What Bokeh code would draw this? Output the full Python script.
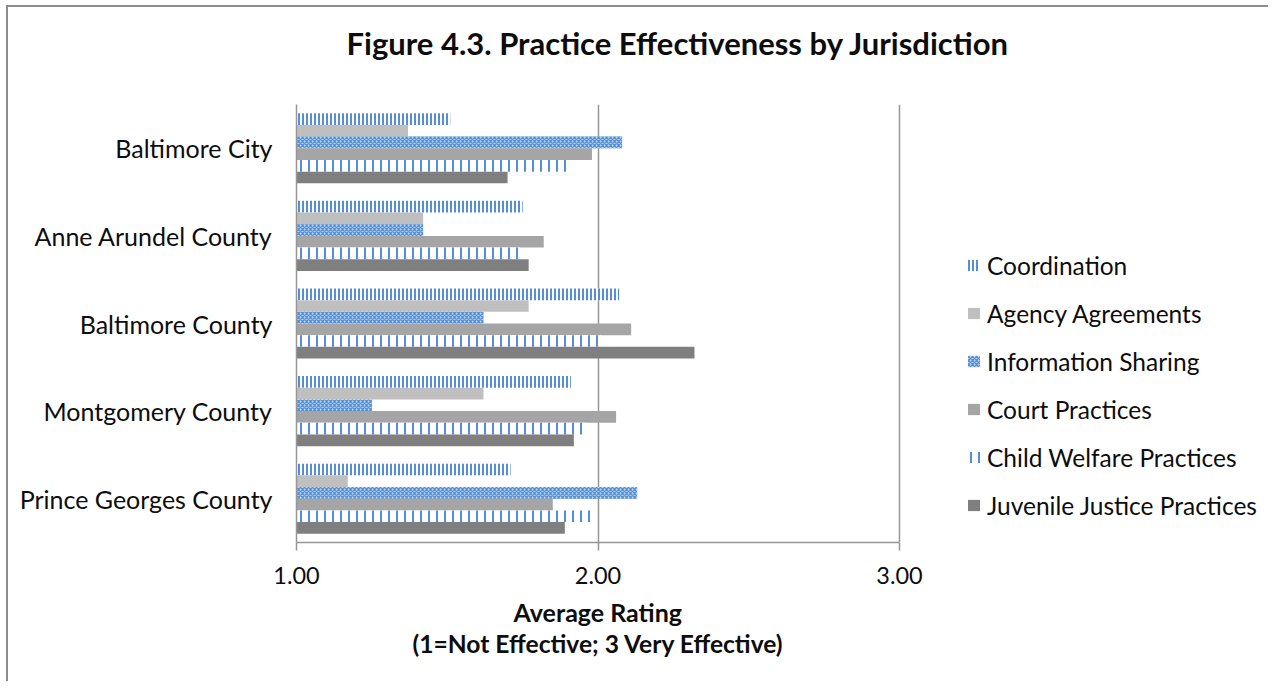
from bokeh.plotting import figure
from bokeh.models import (ColumnDataSource, FactorRange, Range1d, FixedTicker,
                          NumeralTickFormatter, Legend, LegendItem, Title)
from bokeh.transform import dodge
from bokeh.embed import file_html
from bokeh.resources import INLINE

# ---------------- data ----------------
jurisdictions = ["Baltimore City", "Anne Arundel County", "Baltimore County",
                 "Montgomery County", "Prince Georges County"]
series_names = ["Coordination", "Agency Agreements", "Information Sharing",
                "Court Practices", "Child Welfare Practices", "Juvenile Justice Practices"]
coordination = [1.51, 1.75, 2.07, 1.91, 1.71]
agency_agreements = [1.37, 1.42, 1.77, 1.62, 1.17]
information_sharing = [2.08, 1.42, 1.62, 1.25, 2.13]
court_practices = [1.98, 1.82, 2.11, 2.06, 1.85]
child_welfare_practices = [1.90, 1.74, 2.01, 1.96, 1.99]
juvenile_justice_practices = [1.70, 1.77, 2.32, 1.92, 1.89]
x_ticks = [1, 2, 3]

FONT = "Lato"
BLUE = "#558ED5"
AXIS_GREY = "#969696"
TEXT = "#0D0D0D"

# ---------------- layout constants ----------------
W, H = 1262, 676
MB_LEFT, MB_RIGHT, MB_TOP, MB_BOTTOM = 288, 4, 97, 141
PX_PER_UNIT = 301.5          # pixel length of one rating unit on the x axis
frame_w = W - MB_LEFT - MB_RIGHT

source = ColumnDataSource(dict(
    jur=jurisdictions,
    coordination=coordination,
    agency=agency_agreements,
    info=information_sharing,
    court=court_practices,
    cw=child_welfare_practices,
    jj=juvenile_justice_practices,
))

p = figure(width=W, height=H, output_backend="svg", toolbar_location=None,
           y_range=FactorRange(factors=list(reversed(jurisdictions)), range_padding=0),
           x_range=Range1d(x_ticks[0], x_ticks[0] + frame_w / PX_PER_UNIT),
           min_border_left=MB_LEFT, min_border_right=MB_RIGHT,
           min_border_top=MB_TOP, min_border_bottom=MB_BOTTOM)
p.styles = {"border-top": "2px solid #8E8E8E", "border-left": "2px solid #8E8E8E",
            "margin-left": "6px", "margin-top": "5px"}
p.outline_line_color = None
p.background_fill_color = "white"
p.border_fill_color = "white"

bar_h = 0.8 / 6
offsets = [2.5 * bar_h, 1.5 * bar_h, 0.5 * bar_h, -0.5 * bar_h, -1.5 * bar_h, -2.5 * bar_h]

styles = [
    dict(fill_color="white", hatch_pattern="vertical_line", hatch_color=BLUE, hatch_scale=4, hatch_weight=2),
    dict(fill_color="#BFBFBF"),
    dict(fill_color="#C2D6F0", hatch_pattern="diagonal_cross", hatch_color=BLUE, hatch_scale=4, hatch_weight=1.3),
    dict(fill_color="#A5A5A5"),
    dict(fill_color="white", hatch_pattern="vertical_line", hatch_color=BLUE, hatch_scale=8, hatch_weight=2),
    dict(fill_color="#7F7F7F"),
]
cols = ["coordination", "agency", "info", "court", "cw", "jj"]

renderers = []
for col, off, st in zip(cols, offsets, styles):
    r = p.hbar(y=dodge("jur", off, range=p.y_range), left=x_ticks[0], right=col, height=bar_h,
               source=source, line_color=None, **st)
    renderers.append(r)

# grid
p.ygrid.grid_line_color = None
p.xgrid.ticker = FixedTicker(ticks=x_ticks)
p.xgrid.grid_line_color = AXIS_GREY
p.xgrid.grid_line_width = 1.5

# x axis
xa = p.xaxis[0]
xa.ticker = FixedTicker(ticks=x_ticks)
xa.bounds = (x_ticks[0], x_ticks[-1])
xa.formatter = NumeralTickFormatter(format="0.00")
xa.axis_line_color = AXIS_GREY
xa.axis_line_width = 1.5
xa.major_tick_line_color = AXIS_GREY
xa.major_tick_line_width = 1.5
xa.major_tick_out = 8
xa.major_tick_in = 0
xa.minor_tick_line_color = None
xa.major_label_text_font = FONT
xa.major_label_text_font_size = "23.5px"
xa.major_label_text_color = TEXT
xa.major_label_standoff = 16

# axis title, two lines, centred under the 1.00-3.00 span
xlabel1 = Title(text="Average Rating", align="left", offset=217,
                text_font=FONT, text_font_size="25px", text_font_style="bold",
                text_color=TEXT, standoff=17)
p.add_layout(xlabel1, "below")
xlabel2 = Title(text="(1=Not Effective; 3 Very Effective)", align="left", offset=116,
                text_font=FONT, text_font_size="24.6px", text_font_style="bold",
                text_color=TEXT, standoff=-17)
p.add_layout(xlabel2, "below")

# y axis
ya = p.yaxis[0]
ya.axis_line_color = AXIS_GREY
ya.axis_line_width = 1.5
ya.major_tick_line_color = None
ya.major_tick_out = 0
ya.major_tick_in = 0
ya.minor_tick_line_color = None
ya.major_label_text_font = FONT
ya.major_label_text_font_size = "25px"
ya.major_label_text_color = TEXT
ya.major_label_standoff = 24

# title: a thin spacer next to the frame, then the title text above it
p.title.text = ""
spacer = Title(text=" ", text_font_size="1px", standoff=40)
p.add_layout(spacer, "above")
main_title = Title(text="Figure 4.3. Practice Effectiveness by Jurisdiction",
                   text_font=FONT, text_font_size="31px", text_font_style="bold",
                   text_color=TEXT, align="left", offset=50, standoff=0)
p.add_layout(main_title, "above")

# legend (inside the wide frame, to the right of the 3.00 gridline)
legend = Legend(items=[LegendItem(label=n, renderers=[r]) for n, r in zip(series_names, renderers)],
                location=(670, 22), orientation="vertical",
                glyph_width=15, glyph_height=14, label_height=30, spacing=18,
                label_standoff=6, padding=0, margin=0,
                label_text_font=FONT, label_text_font_size="24.5px", label_text_color=TEXT,
                border_line_color=None, background_fill_alpha=0)
p.add_layout(legend, "center")

open("out.html", "w").write(file_html(p, INLINE))
